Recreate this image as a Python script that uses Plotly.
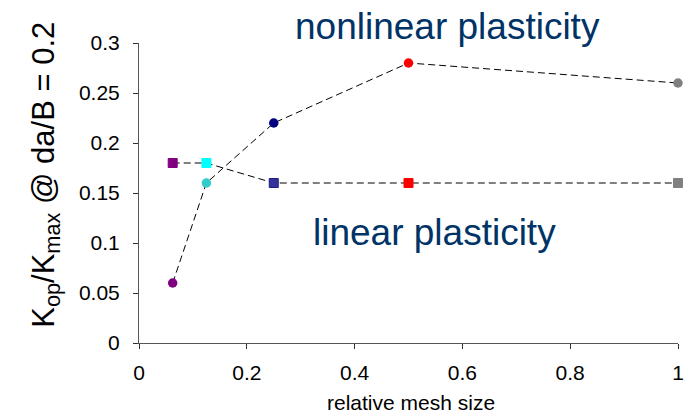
import plotly.graph_objects as go

# ---- data ----
mesh_size = [0.0625, 0.125, 0.25, 0.5, 1.0]
kop_nonlinear = [0.06, 0.16, 0.22, 0.28, 0.26]
kop_linear = [0.18, 0.18, 0.16, 0.16, 0.16]
circle_colors = ["#800080", "#33CCCC", "#000080", "#FF0000", "#808080"]
square_colors = ["#800080", "#00FFFF", "#333399", "#FF0000", "#808080"]
square_border = ["#800080", "#00FFFF", "#1F1F80", "#FF0000", "#808080"]
x_ticks = [0, 0.2, 0.4, 0.6, 0.8, 1]
x_tick_text = ["0", "0.2", "0.4", "0.6", "0.8", "1"]
y_ticks = [0, 0.05, 0.1, 0.15, 0.2, 0.25, 0.3]
y_tick_text = ["0", "0.05", "0.1", "0.15", "0.2", "0.25", "0.3"]

FONT = "Arial, Liberation Sans, sans-serif"
TXT_BLUE = "#003366"

fig = go.Figure()

# dashed connecting lines
for ys in (kop_nonlinear, kop_linear):
    fig.add_trace(go.Scatter(
        x=mesh_size, y=ys, mode="lines",
        line=dict(color="black", width=1, dash="7px,4px"),
        hoverinfo="skip", showlegend=False, cliponaxis=False))

fig.add_trace(go.Scatter(
    x=mesh_size, y=kop_nonlinear, mode="markers",
    marker=dict(symbol="circle", size=9.5, color=circle_colors, line=dict(width=0)),
    showlegend=False, cliponaxis=False, name="nonlinear plasticity"))
fig.add_trace(go.Scatter(
    x=mesh_size, y=kop_linear, mode="markers",
    marker=dict(symbol="square", size=9, color=square_colors,
                line=dict(width=1, color=square_border)),
    showlegend=False, cliponaxis=False, name="linear plasticity"))

axis_common = dict(
    showgrid=False, zeroline=False, showline=True, linecolor="#555555", linewidth=1,
    ticks="outside", ticklen=5, tickcolor="#333333", tickwidth=1,
    tickfont=dict(family=FONT, size=21, color="black"),
)
fig.update_xaxes(range=[0, 1], tickvals=x_ticks, ticktext=x_tick_text,
                 ticklabelstandoff=6, **axis_common)
fig.update_yaxes(range=[0, 0.3], tickvals=y_ticks, ticktext=y_tick_text,
                 ticklabelstandoff=9, **axis_common)

annotations = [
    dict(text="nonlinear plasticity", x=0.572, y=1.055, xref="paper", yref="paper",
         xanchor="center", yanchor="middle", showarrow=False,
         font=dict(family=FONT, size=37, color=TXT_BLUE)),
    dict(text="linear plasticity", x=0.548, y=0.37, xref="paper", yref="paper",
         xanchor="center", yanchor="middle", showarrow=False,
         font=dict(family=FONT, size=37, color=TXT_BLUE)),
    dict(text="K<sub>op</sub>/K<sub>max</sub> @ da/B = 0.2", x=-0.173, y=0.56,
         xref="paper", yref="paper", xanchor="center", yanchor="middle",
         textangle=-90, showarrow=False,
         font=dict(family=FONT, size=31, color="black")),
    dict(text="relative mesh size", x=0.504, y=-0.197, xref="paper", yref="paper",
         xanchor="center", yanchor="middle", showarrow=False,
         font=dict(family=FONT, size=21, color="black")),
]

# page body adds an 8px offset; size the figure so the plot area lands where the reference has it
fig.update_layout(
    width=688, height=405,
    margin=dict(l=131, r=12, t=35, b=70),
    paper_bgcolor="white", plot_bgcolor="white",
    annotations=annotations,
    font=dict(family=FONT),
)

fig.write_html("out.html")
